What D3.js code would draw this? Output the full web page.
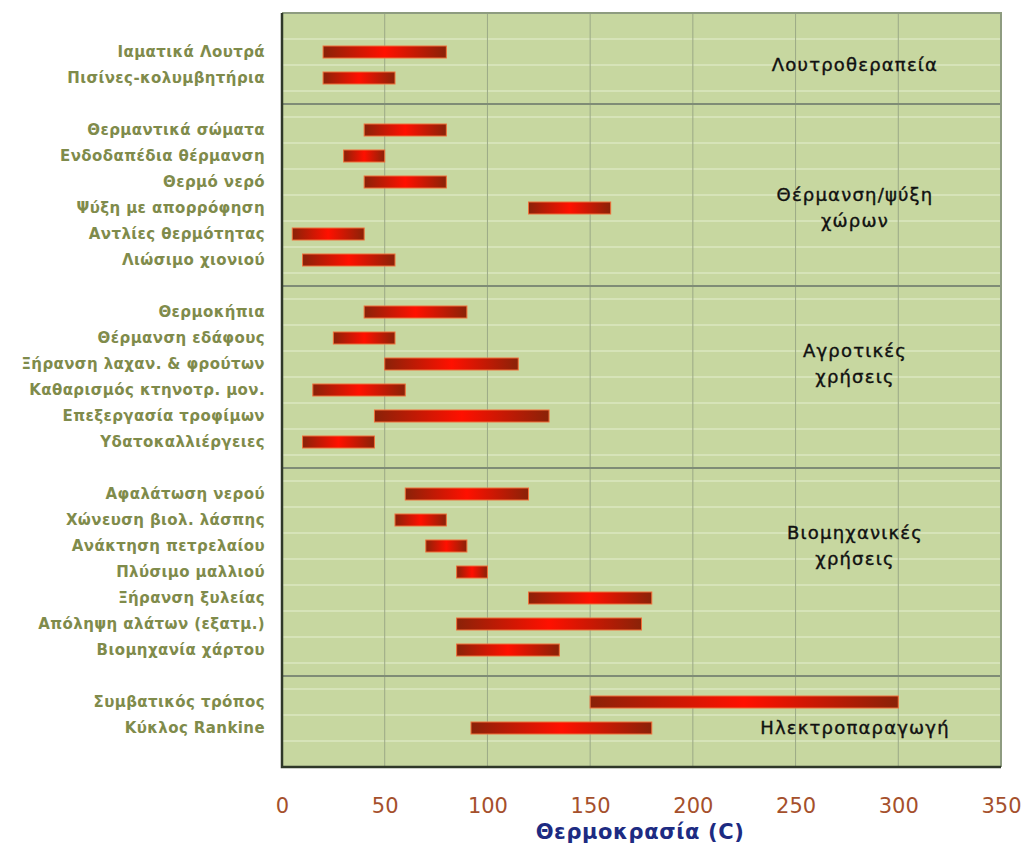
<!DOCTYPE html>
<html>
<head>
<meta charset="utf-8">
<script src="https://cdn.jsdelivr.net/npm/d3@7"></script>
<style>
  body { margin: 0; background: #fff; }
  text { font-family: "DejaVu Sans", sans-serif; }
</style>
</head>
<body>
<script>
// groups of uses, top to bottom
const groupNames = [
  ["Λουτροθεραπεία"],
  ["Θέρμανση/ψύξη", "χώρων"],
  ["Αγροτικές", "χρήσεις"],
  ["Βιομηχανικές", "χρήσεις"],
  ["Ηλεκτροπαραγωγή"]
];
const groupSizes = [2, 6, 6, 7, 2];
// row inside the group the group name sits against
const groupLabelRow = [0.5, 3, 2, 2, 1];

const labels = [
  "Ιαματικά Λουτρά", "Πισίνες-κολυμβητήρια",
  "Θερμαντικά σώματα", "Ενδοδαπέδια θέρμανση", "Θερμό νερό", "Ψύξη με απορρόφηση", "Αντλίες θερμότητας", "Λιώσιμο χιονιού",
  "Θερμοκήπια", "Θέρμανση εδάφους", "Ξήρανση λαχαν. & φρούτων", "Καθαρισμός κτηνοτρ. μον.", "Επεξεργασία τροφίμων", "Υδατοκαλλιέργειες",
  "Αφαλάτωση νερού", "Χώνευση βιολ. λάσπης", "Ανάκτηση πετρελαίου", "Πλύσιμο μαλλιού", "Ξήρανση ξυλείας", "Απόληψη αλάτων (εξατμ.)", "Βιομηχανία χάρτου",
  "Συμβατικός τρόπος", "Κύκλος Rankine"
];
const tMin = [20, 20, 40, 30, 40, 120, 5, 10, 40, 25, 50, 15, 45, 10, 60, 55, 70, 85, 120, 85, 85, 150, 92];
const tMax = [80, 55, 80, 50, 80, 160, 40, 55, 90, 55, 115, 60, 130, 45, 120, 80, 90, 100, 180, 175, 135, 300, 180];
const xTicks = [0, 50, 100, 150, 200, 250, 300, 350];
const xTitle = "Θερμοκρασία (C)";

const width = 1023, height = 849;
const plotL = 282, plotR = 1001, plotT = 13, plotB = 767;

// slot layout: blank, group, separator, group, ..., group, blank
const rowSlot = [], sepSlots = [], groupStart = [];
let s = 1, r = 0;
groupSizes.forEach((n, g) => {
  groupStart.push(s);
  for (let i = 0; i < n; i++) rowSlot[r++] = s++;
  if (g < groupSizes.length - 1) sepSlots.push(s++);
});
const nSlots = s + 1;

const x = d3.scaleLinear().domain([0, 350]).range([plotL, plotR]);
const y = d3.scaleBand().domain(d3.range(nSlots)).range([plotT, plotB]);
const yc = v => plotT + (v + 0.5) * y.bandwidth();

const svg = d3.select('body').append('svg').attr('width', width).attr('height', height);

const grad = svg.append('defs').append('linearGradient').attr('id', 'barGrad');
grad.append('stop').attr('offset', '0%').attr('stop-color', '#8a2208');
grad.append('stop').attr('offset', '50%').attr('stop-color', '#ff1000');
grad.append('stop').attr('offset', '100%').attr('stop-color', '#8a2208');

svg.append('rect')
  .attr('x', plotL).attr('y', plotT).attr('width', plotR - plotL).attr('height', plotB - plotT)
  .attr('fill', '#c7d7a0');

// light horizontal stripes
svg.selectAll('line.stripe')
  .data(d3.range(1, nSlots))
  .enter().append('line')
  .attr('class', 'stripe')
  .attr('x1', plotL).attr('x2', plotR)
  .attr('y1', d => y(d)).attr('y2', d => y(d))
  .attr('stroke', '#d6e3b8').attr('stroke-width', 2);

// vertical grid
svg.selectAll('line.grid')
  .data(xTicks.slice(1, -1))
  .enter().append('line')
  .attr('class', 'grid')
  .attr('x1', d => x(d)).attr('x2', d => x(d))
  .attr('y1', plotT).attr('y2', plotB)
  .attr('stroke', '#9ba986').attr('stroke-width', 1);

// group separators
svg.selectAll('line.sep')
  .data(sepSlots)
  .enter().append('line')
  .attr('class', 'sep')
  .attr('x1', plotL).attr('x2', plotR)
  .attr('y1', d => yc(d)).attr('y2', d => yc(d))
  .attr('stroke', '#7f8c76').attr('stroke-width', 2);

// bars
svg.selectAll('rect.bar')
  .data(labels)
  .enter().append('rect')
  .attr('class', 'bar')
  .attr('x', (d, i) => x(tMin[i]))
  .attr('width', (d, i) => x(tMax[i]) - x(tMin[i]))
  .attr('y', (d, i) => yc(rowSlot[i]) - 6)
  .attr('height', 12)
  .attr('fill', 'url(#barGrad)')
  .attr('stroke', '#f0703a').attr('stroke-width', 1);

// frame
svg.append('path')
  .attr('d', `M${plotL},${plotT}H${plotR}V${plotB}`)
  .attr('fill', 'none').attr('stroke', '#8e9c80').attr('stroke-width', 2);
svg.append('path')
  .attr('d', `M${plotL},${plotT}V${plotB}H${plotR}`)
  .attr('fill', 'none').attr('stroke', '#2f3829').attr('stroke-width', 2.5);

// row labels
svg.selectAll('text.row')
  .data(labels)
  .enter().append('text')
  .attr('class', 'row')
  .attr('x', 265)
  .attr('y', (d, i) => yc(rowSlot[i]))
  .attr('dy', '0.35em')
  .attr('text-anchor', 'end')
  .attr('font-size', 15)
  .attr('font-weight', 'bold')
  .attr('letter-spacing', 0.4)
  .attr('fill', '#7f8b4b')
  .text(d => d);

// group labels
groupNames.forEach((lines, g) => {
  const cy = yc(groupStart[g] + groupLabelRow[g]);
  const t = svg.append('text')
    .attr('text-anchor', 'middle')
    .attr('font-size', 18)
    .attr('letter-spacing', 1.2)
    .attr('fill', '#111')
    .attr('stroke', '#111').attr('stroke-width', 0.4);
  lines.forEach((ln, k) => {
    t.append('tspan')
      .attr('x', 855)
      .attr('y', cy + (k - (lines.length - 1) / 2) * 26)
      .attr('dy', '0.35em')
      .text(ln);
  });
});

// x axis labels
const axis = d3.axisBottom(x).tickValues(xTicks).tickSize(0).tickPadding(0);
const ag = svg.append('g').attr('transform', `translate(0, ${plotB + 31})`).call(axis);
ag.select('.domain').remove();
ag.selectAll('text')
  .attr('font-size', 21)
  .attr('fill', '#a5502c')
  .style('font-family', '"DejaVu Sans", sans-serif');

svg.append('text')
  .attr('x', 640).attr('y', 839)
  .attr('text-anchor', 'middle')
  .attr('font-size', 21)
  .attr('font-weight', 'bold')
  .attr('letter-spacing', 0.6)
  .attr('fill', '#1d2b82')
  .text(xTitle);
</script>
</body>
</html>
